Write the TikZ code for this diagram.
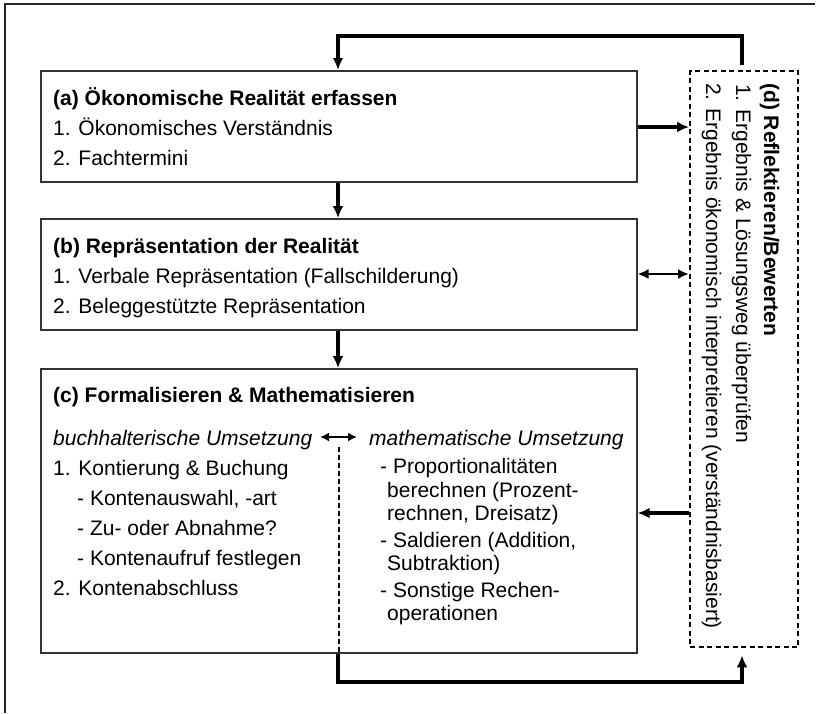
\documentclass[tikz,border=0pt]{standalone}
\usepackage{fontspec}
\setmainfont{Liberation Sans}
\usetikzlibrary{arrows.meta}
\begin{document}
\begin{tikzpicture}[x=1pt,y=-1pt,
  font=\fontsize{21}{24}\selectfont,
  box/.style={draw=black!80, line width=1.5pt, inner sep=0pt, anchor=north west},
  dbox/.style={draw=black, line width=2.4pt, dash pattern=on 5pt off 3.5pt, inner sep=0pt, anchor=north west},
  txt/.style={anchor=base west, inner sep=0pt},
  bigarr/.style={line width=3.6pt, -{Latex[length=12pt,width=11pt]}},
  medarr/.style={line width=3.2pt, -{Latex[length=12pt,width=10.5pt]}},
  dblarr/.style={line width=2.8pt, {Latex[length=11pt,width=10pt]}-{Latex[length=11pt,width=10pt]}},
  smallarr/.style={line width=2pt, {Latex[length=9pt,width=9pt]}-{Latex[length=9pt,width=9pt]}},
  frame/.style={line width=1.8pt, draw=black!85}
]
\useasboundingbox (0,0) rectangle (819,713);
% outer frame (left and top edges visible)
\coordinate (f1) at (5,713);
\coordinate (f2) at (5,4);
\coordinate (f3) at (815,4);
\draw[frame] (f1) -- (f2) -- (f3);

% boxes
\node[box, minimum width=596pt, minimum height=111pt] (a) at (40,70) {};
\node[box, minimum width=596pt, minimum height=111pt] (b) at (40,218) {};
\node[box, minimum width=596pt, minimum height=284pt] (c) at (40,368) {};
\node[dbox, minimum width=108pt, minimum height=576pt] (d) at (689,70) {};

% helper coordinates
\coordinate (colx) at (338,0);
\coordinate (fbx) at (742,36);
\coordinate (ya) at (0,127);
\coordinate (yb) at (0,274);
\coordinate (yc) at (0,513);
\coordinate (ybot) at (742,682);
\coordinate (divtop) at (339,447);
\coordinate (ul) at (320,437);
\coordinate (ur) at (357,437);

% box (a) text
\node[txt] (at) at (53,105) {\bfseries (a) Ökonomische Realität erfassen};
\node[txt] (a1) at (53,135) {1. Ökonomisches Verständnis};
\node[txt] (a2) at (53,165) {2. Fachtermini};

% box (b) text
\node[txt] (bt) at (53,253) {\bfseries (b) Repräsentation der Realität};
\node[txt] (b1) at (53,283) {1. Verbale Repräsentation (Fallschilderung)};
\node[txt] (b2) at (53,313) {2. Beleggestützte Repräsentation};

% box (c) text
\node[txt] (ct) at (53,402) {\bfseries (c) Formalisieren \& Mathematisieren};
\node[txt] (cl0) at (53,445) {\itshape buchhalterische Umsetzung};
\node[txt] (cl1) at (53,475) {1. Kontierung \& Buchung};
\node[txt] (cl2) at (77,505) {- Kontenauswahl, -art};
\node[txt] (cl3) at (77,535) {- Zu- oder Abnahme?};
\node[txt] (cl4) at (77,565) {- Kontenaufruf festlegen};
\node[txt] (cl5) at (53,595) {2. Kontenabschluss};

\node[txt] (cr0) at (369,445) {\itshape mathematische Umsetzung};
\node[txt] (cr1) at (380,473) {- Proportionalitäten};
\node[txt] (cr2) at (387,497) {berechnen (Prozent-};
\node[txt] (cr3) at (387,520) {rechnen, Dreisatz)};
\node[txt] (cr4) at (380,547) {- Saldieren (Addition,};
\node[txt] (cr5) at (387,570) {Subtraktion)};
\node[txt] (cr6) at (380,597) {- Sonstige Rechen-};
\node[txt] (cr7) at (387,620) {operationen};

% box (d) text, rotated
\node[txt, rotate=-90] (dt) at (764,83) {\bfseries (d) Reflektieren/Bewerten};
\node[txt, rotate=-90] (d1) at (736,84) {1. Ergebnis \& Lösungsweg überprüfen};
\node[txt, rotate=-90] (d2) at (706,83) {2. Ergebnis ökonomisch interpretieren (verständnisbasiert)};

% vertical flow arrows
\draw[bigarr] (a.south -| colx) -- (b.north -| colx);
\draw[bigarr] (b.south -| colx) -- (c.north -| colx);

% feedback from (d) to (a)
\draw[medarr, shorten <=5pt] (d.north -| fbx) -- (fbx) -| (a.north -| colx);

% side arrows
\draw[bigarr] (a.east |- ya) -- (d.west |- ya);
\draw[dblarr] (b.east |- yb) -- (d.west |- yb);
\draw[medarr] (d.west |- yc) -- (c.east |- yc);

% divider inside (c)
\draw[line width=1.8pt, dash pattern=on 4.5pt off 3.5pt] (divtop) -- (c.south -| divtop);
\draw[smallarr] (ul) -- (ur);

% bottom feedback from (c) to (d)
\draw[bigarr, shorten >=7pt] (c.south -| colx) |- (ybot) -- (d.south -| ybot);
\end{tikzpicture}
\end{document}
